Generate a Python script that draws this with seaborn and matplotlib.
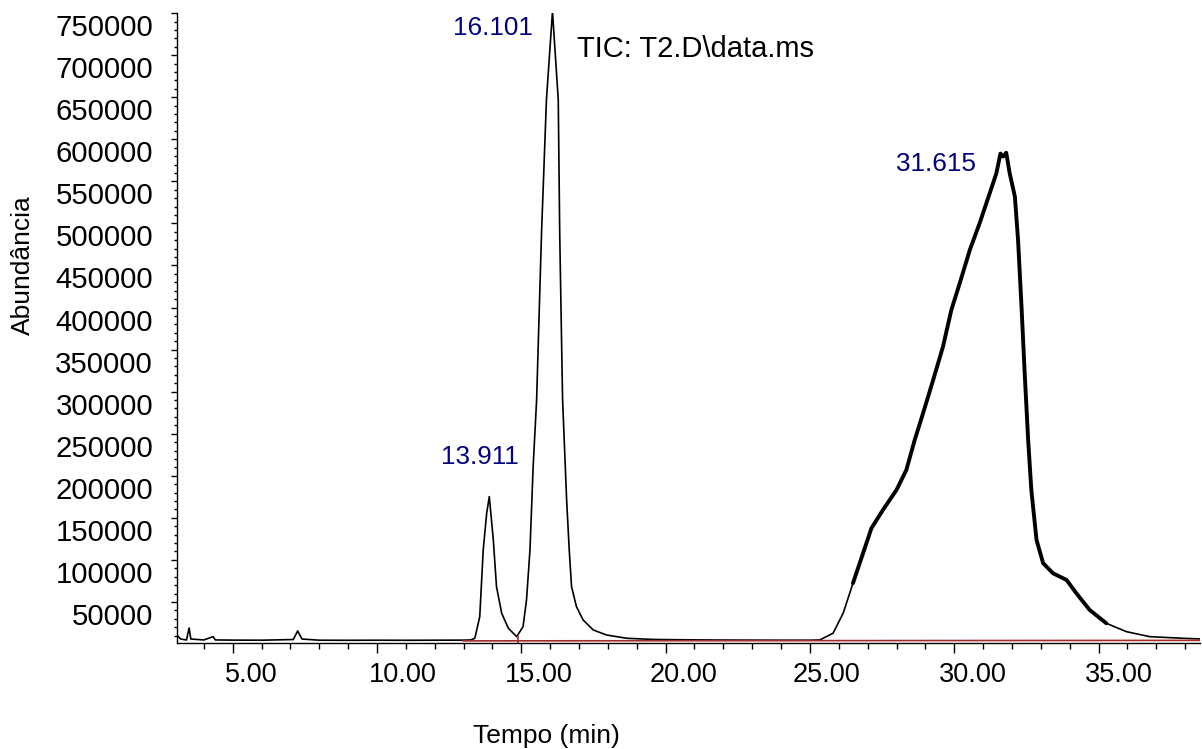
import numpy as np
import pandas as pd
import matplotlib
matplotlib.use("Agg")
import matplotlib.pyplot as plt
import matplotlib.ticker as ticker
import matplotlib.transforms as mtrans
import seaborn as sns

# ==========================================
# 1. DATA
# ==========================================
time_min = [3.06, 3.20, 3.40, 3.49, 3.55, 4.00, 4.32, 4.40, 5.00, 6.00, 7.10, 7.25, 7.40,
            8.00, 9.00, 10.00, 11.00, 12.00, 13.00, 13.25, 13.39, 13.56, 13.68, 13.80, 13.89,
            14.03, 14.14, 14.32, 14.55, 14.84, 15.06, 15.18, 15.30, 15.41, 15.53, 15.70,
            15.87, 16.08, 16.28, 16.33, 16.43, 16.57, 16.66, 16.74, 16.91, 17.14, 17.49, 17.95,
            18.65, 19.50, 20.00, 21.00, 22.00, 23.00, 24.00, 25.00, 25.34, 25.80, 26.15,
            26.49, 26.84, 27.13, 27.53, 28.00, 28.34, 28.63, 28.92, 29.27, 29.61, 29.90,
            30.19, 30.54, 30.88, 31.23, 31.46, 31.60, 31.69, 31.80, 31.92, 32.10, 32.21,
            32.33, 32.44, 32.56, 32.67, 32.85, 33.08, 33.42, 33.89, 34.23, 34.69, 35.27,
            35.96, 36.77, 37.92, 38.50]
abundance = [10700, 5900, 4800, 19000, 5900, 4800, 8700, 4800, 4600, 4500, 5300, 15500, 5900,
             4500, 4400, 4500, 4400, 4500, 4600, 4800, 6800, 32500, 111800, 155400, 175200,
             123700, 68200, 36500, 18700, 8700, 20600, 52400, 111800, 210900, 290200, 488400,
             646900, 752000, 646900, 488700, 290200, 171300, 111800, 68200, 44400, 28600, 16700, 10700,
             6800, 5500, 5200, 4900, 4700, 4600, 4500, 4500, 4800, 12800, 36500,
             72200, 107900, 137600, 159400, 183200, 206900, 242600, 274400, 314000, 353600, 397200,
             428900, 468500, 500300, 536000, 559700, 583000, 579500, 584000, 559700, 531900, 480400,
             401100, 321900, 242600, 183200, 123700, 96000, 84100, 76100, 60300, 40500, 24600,
             14700, 8700, 6800, 6000]

baseline_t = [12.98, 38.50]
baseline_v = [3700, 4300]

peak_labels = ["13.911", "16.101", "31.615"]
label_t = [13.56, 15.40, 29.35]
label_v = [222700, 732000, 570800]

x_major = [5, 10, 15, 20, 25, 30, 35]
y_major = list(range(50000, 750001, 50000))

df = pd.DataFrame({"Tempo": time_min, "Abundancia": abundance})
noisy = df[(df["Tempo"] >= 26.4) & (df["Tempo"] <= 35.5)]

# ==========================================
# 2. PLOT
# ==========================================
sns.set_style("ticks")
plt.rcParams["font.family"] = ["Liberation Sans", "DejaVu Sans"]
plt.rcParams["text.color"] = "black"
plt.rcParams["axes.labelcolor"] = "black"
plt.rcParams["xtick.color"] = "black"
plt.rcParams["ytick.color"] = "black"
plt.rcParams["axes.edgecolor"] = "black"

fig = plt.figure(figsize=(12.02, 7.49), dpi=100)
ax = fig.add_axes([0.147, 0.142, 0.851, 0.8405])

sns.lineplot(data=df, x="Tempo", y="Abundancia", ax=ax, color="black", linewidth=1.2)
# the broad hump is very noisy -> thicker trace
sns.lineplot(data=noisy, x="Tempo", y="Abundancia", ax=ax, color="black", linewidth=2.8)
ax.plot(baseline_t, baseline_v, color="#a52a2a", linewidth=1.2)
ax.vlines(14.9, 1600, 9000, color="#a52a2a", linewidth=1.2)

ax.set_xlim(3.06, 38.5)
ax.set_ylim(1600, 750000)

ax.set_xticks(x_major)
ax.set_xticklabels([f"{v:.2f}" for v in x_major], fontsize=19.5, ha="left")
ax.xaxis.set_minor_locator(ticker.MultipleLocator(1))
ax.set_yticks(y_major)
ax.set_yticklabels([str(v) for v in y_major], fontsize=21.2)
ax.yaxis.set_minor_locator(ticker.MultipleLocator(10000))

ax.tick_params(axis="x", which="major", length=7, width=1, pad=7)
ax.tick_params(axis="x", which="minor", length=4, width=1)
ax.tick_params(axis="y", which="major", length=4, width=1, pad=13)
ax.tick_params(axis="y", which="minor", length=2.5, width=1)

# labels sit shifted from the ticks, like ChemStation prints them
x_shift_px = [-8, -8, -16, -16, -17, -15, -14]
for lab, dx in zip(ax.get_xticklabels(), x_shift_px):
    lab.set_transform(lab.get_transform() + mtrans.ScaledTranslation(dx / 100, 0, fig.dpi_scale_trans))
for lab in ax.get_yticklabels():
    lab.set_transform(lab.get_transform() + mtrans.ScaledTranslation(0, -12 / 100, fig.dpi_scale_trans))

sns.despine(ax=ax)
ax.spines["left"].set_linewidth(1)
ax.spines["bottom"].set_linewidth(1)

ax.set_xlabel("Tempo (min)", fontsize=19)
ax.set_ylabel("Abundância", fontsize=19)
ax.xaxis.set_label_coords(0.361, -0.1287)
ax.yaxis.set_label_coords(-0.139, 0.60)

for txt, t, v in zip(peak_labels, label_t, label_v):
    ha = "right" if txt == "16.101" else "center"
    ax.text(t, v, txt, color="#000080", fontsize=18.8, ha=ha, va="center")

ax.text(0.391, 0.943, "TIC: T2.D\\data.ms", transform=ax.transAxes,
        fontsize=21, ha="left", va="center", color="black")

plt.savefig("out.png", dpi=100)
